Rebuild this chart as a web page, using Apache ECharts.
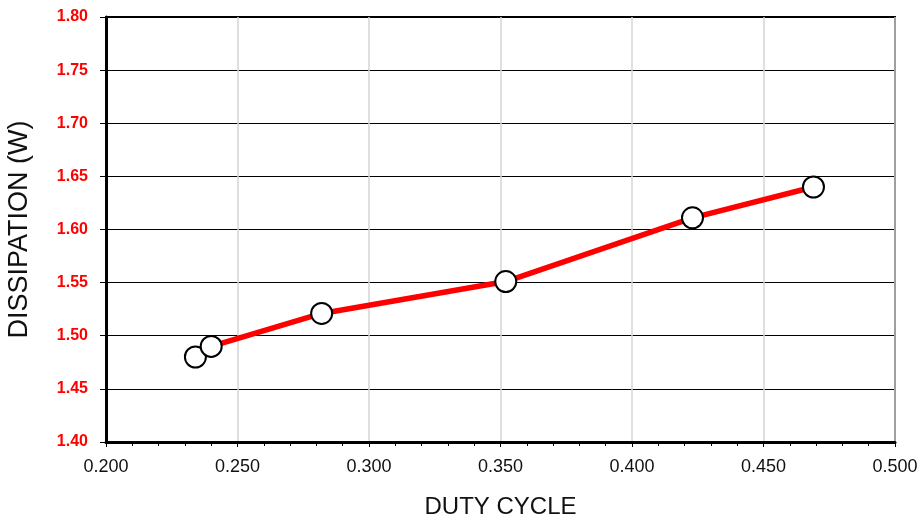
<!DOCTYPE html>
<html>
<head>
<meta charset="utf-8">
<script src="https://cdn.jsdelivr.net/npm/echarts@6/dist/echarts.min.js"></script>
<style>
  html, body { margin: 0; padding: 0; background: #fff; }
  #chart { width: 920px; height: 518px; }
</style>
</head>
<body>
<div id="chart"></div>
<script>
// 读图得到的数据
const dutyCycle = [0.234, 0.240, 0.282, 0.352, 0.423, 0.469];
const dissipation = [1.48, 1.49, 1.521, 1.551, 1.611, 1.640];
const xTicks = [0.2, 0.25, 0.3, 0.35, 0.4, 0.45, 0.5];
const yTicks = [1.4, 1.45, 1.5, 1.55, 1.6, 1.65, 1.7, 1.75, 1.8];

const points = dutyCycle.map((x, i) => [x, dissipation[i]]);

const myChart = echarts.init(document.getElementById('chart'), null, { renderer: 'canvas' });

let option = {
  animation: false,
  backgroundColor: '#fff',
  grid: {
    left: 106,
    right: 25,
    top: 17,
    bottom: 76,
    containLabel: false,
    outerBoundsMode: 'none', // 不让 v6 自动收缩网格
    show: true,
    borderColor: '#000',
    borderWidth: 2,
  },
  xAxis: {
    type: 'value',
    min: xTicks[0],
    max: xTicks[xTicks.length - 1],
    interval: 0.05,
    name: 'DUTY CYCLE',
    nameLocation: 'middle',
    nameGap: 53,
    nameTextStyle: { color: '#111', fontSize: 24, fontFamily: 'Liberation Sans' },
    axisLine: { show: true, onZero: false, lineStyle: { color: '#000', width: 3 } },
    axisTick: { show: true, length: 5, lineStyle: { color: '#000', width: 1 } },
    minorTick: { show: true, splitNumber: 5, length: 4, lineStyle: { color: '#000', width: 1 } },
    axisLabel: {
      margin: 16,
      color: '#111',
      fontSize: 18,
      fontFamily: 'Liberation Sans',
      formatter: (v) => v.toFixed(3),
    },
    splitLine: { show: true, lineStyle: { color: '#d4d4d4', width: 1.5 } },
  },
  yAxis: {
    type: 'value',
    min: yTicks[0],
    max: yTicks[yTicks.length - 1],
    interval: 0.05,
    name: 'DISSIPATION (W)',
    nameLocation: 'middle',
    nameGap: 73,
    nameTextStyle: { color: '#111', fontSize: 27, fontFamily: 'Liberation Sans' },
    axisLine: { show: true, onZero: false, lineStyle: { color: '#000', width: 3 } },
    axisTick: { show: true, length: 6, lineStyle: { color: '#000', width: 1 } },
    axisLabel: {
      margin: 18,
      color: '#ff0000',
      fontSize: 16,
      fontWeight: 'bold',
      fontFamily: 'Liberation Sans',
      formatter: (v) => v.toFixed(2),
    },
    splitLine: { show: true, lineStyle: { color: '#000', width: 1 } },
  },
  series: [
    {
      type: 'line',
      data: points,
      symbol: 'circle',
      symbolSize: 21,
      showAllSymbol: true,
      lineStyle: { color: '#ff0000', width: 5.5 },
      itemStyle: { color: '#fff', borderColor: '#000', borderWidth: 2 },
      z: 5,
    },
  ],
};

myChart.setOption(option);
</script>
</body>
</html>
